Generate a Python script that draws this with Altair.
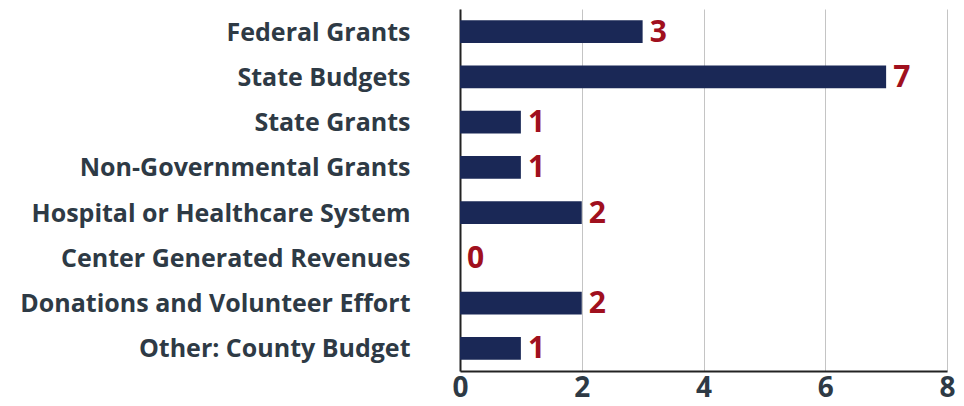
import altair as alt
import pandas as pd

categories = ["Federal Grants", "State Budgets", "State Grants", "Non-Governmental Grants",
              "Hospital or Healthcare System", "Center Generated Revenues",
              "Donations and Volunteer Effort", "Other: County Budget"]
values = [3, 7, 1, 1, 2, 0, 2, 1]
ticks = [0, 2, 4, 6, 8]

df = pd.DataFrame({"cat": categories, "val": values})

FONT = "Open Sans"
base = alt.Chart(df).encode(
    y=alt.Y("cat:N", sort=categories, title=None,
            scale=alt.Scale(paddingInner=0.5, paddingOuter=0.25),
            axis=alt.Axis(domainColor="#222222", domainWidth=2, ticks=False,
                          labelFont=FONT, labelFontWeight="bold", labelFontSize=25,
                          labelColor="#2e3a45", labelPadding=50, labelLimit=500,
                          labelOffset=1)),
)

bars = base.mark_bar(color="#1a2856").encode(
    x=alt.X("val:Q", title=None, scale=alt.Scale(domain=[0, 8]),
            axis=alt.Axis(values=ticks, format="d", domainColor="#222222", domainWidth=2,
                          ticks=False, grid=True, gridColor="#c4c4c4", gridWidth=1,
                          labelFont=FONT, labelFontWeight="bold", labelFontSize=28,
                          labelColor="#2e3a45", labelPadding=3, labelFlush=False))
)

text = base.mark_text(align="left", baseline="middle", dx=7, dy=1, font=FONT,
                      fontWeight="bold", fontSize=30, color="#a0101e").encode(
    x="val:Q", text="val:Q"
)

chart = (bars + text).properties(
    width=487, height=362,
    autosize=alt.AutoSizeParams(type="none"),
    padding={"left": 452, "top": 1, "right": 9, "bottom": 40},
).configure_view(stroke=None)

chart.save("out.html", embed_options={"renderer": "svg", "actions": False})
